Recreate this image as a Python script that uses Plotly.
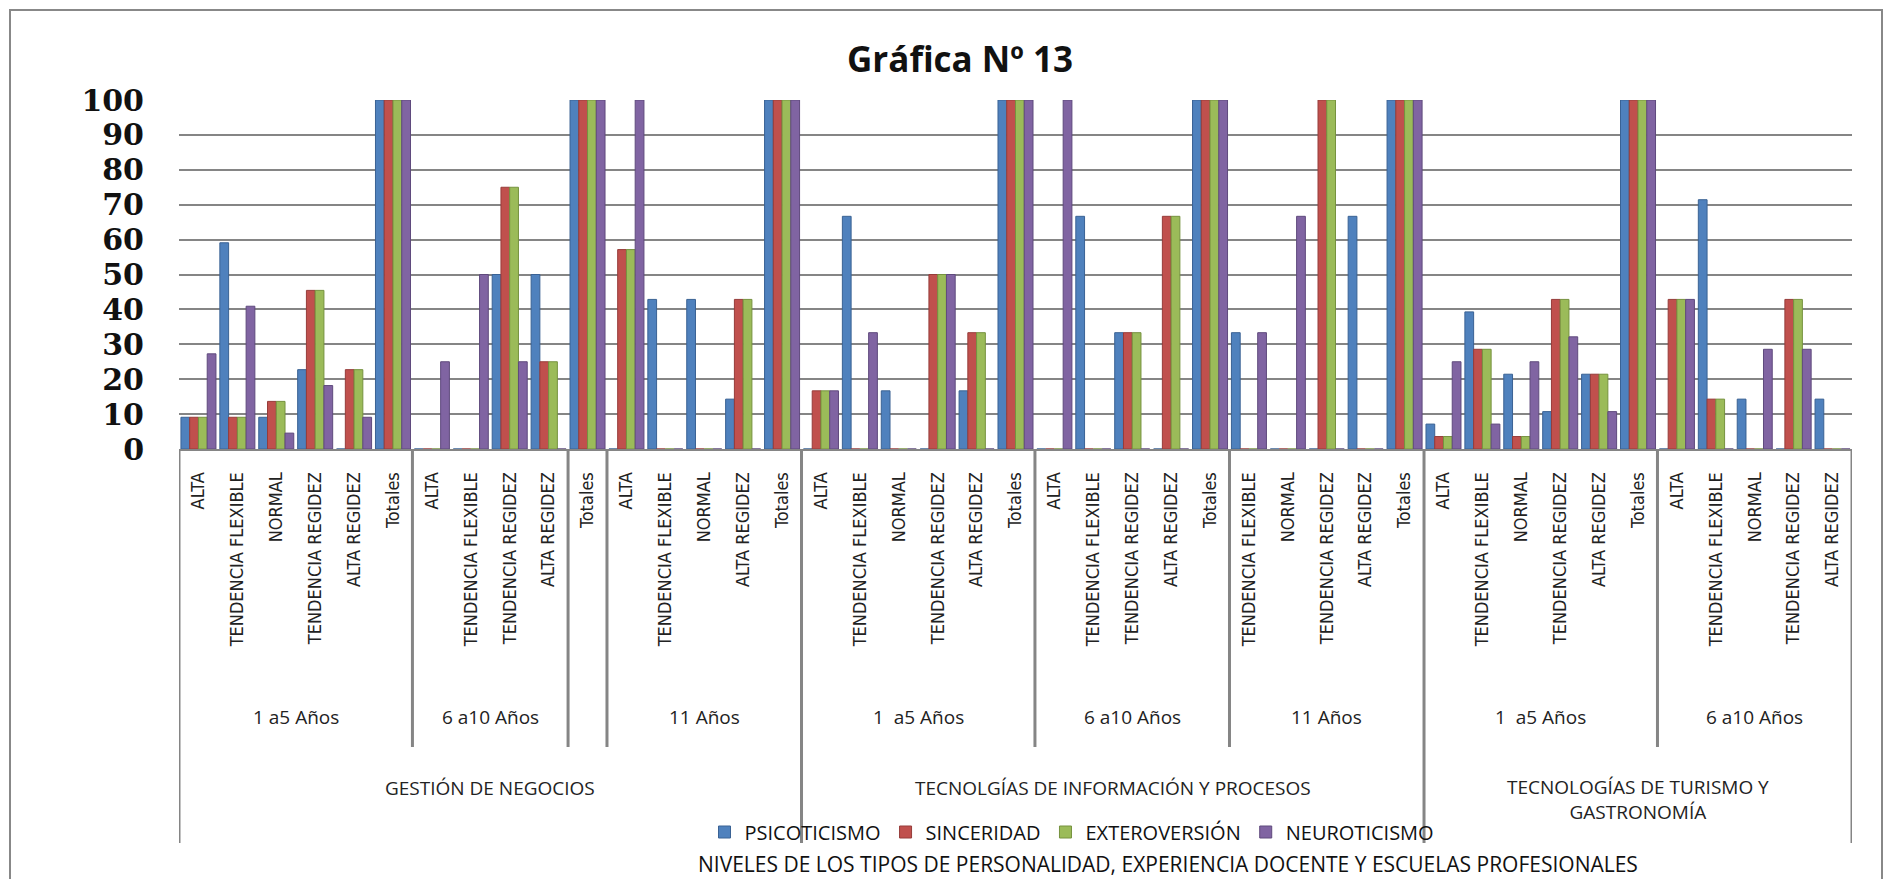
import plotly.graph_objects as go

# ---------------- data ----------------
niveles = [
    "ALTA", "TENDENCIA FLEXIBLE", "NORMAL", "TENDENCIA REGIDEZ", "ALTA REGIDEZ", "Totales",
    "ALTA", "TENDENCIA FLEXIBLE", "TENDENCIA REGIDEZ", "ALTA REGIDEZ",
    "Totales",
    "ALTA", "TENDENCIA FLEXIBLE", "NORMAL", "ALTA REGIDEZ", "Totales",
    "ALTA", "TENDENCIA FLEXIBLE", "NORMAL", "TENDENCIA REGIDEZ", "ALTA REGIDEZ", "Totales",
    "ALTA", "TENDENCIA FLEXIBLE", "TENDENCIA REGIDEZ", "ALTA REGIDEZ", "Totales",
    "TENDENCIA FLEXIBLE", "NORMAL", "TENDENCIA REGIDEZ", "ALTA REGIDEZ", "Totales",
    "ALTA", "TENDENCIA FLEXIBLE", "NORMAL", "TENDENCIA REGIDEZ", "ALTA REGIDEZ", "Totales",
    "ALTA", "TENDENCIA FLEXIBLE", "NORMAL", "TENDENCIA REGIDEZ", "ALTA REGIDEZ",
]

experiencia = (
    ["1 a5 Años"] * 6 + ["6 a10 Años"] * 4 + [""] * 1 + ["11 Años"] * 5
    + ["1  a5 Años"] * 6 + ["6 a10 Años"] * 5 + ["11 Años"] * 5
    + ["1  a5 Años"] * 6 + ["6 a10 Años"] * 5
)

escuela = (
    ["GESTIÓN DE NEGOCIOS"] * 16
    + ["TECNOLGÍAS DE INFORMACIÓN Y PROCESOS"] * 16
    + ["TECNOLOGÍAS DE TURISMO Y<br>GASTRONOMÍA"] * 11
)

psicoticismo = [
    9.09, 59.09, 9.09, 22.73, 0, 100,
    0, 0, 50, 50,
    100,
    0, 42.86, 42.86, 14.29, 100,
    0, 66.67, 16.67, 0, 16.67, 100,
    0, 66.67, 33.33, 0, 100,
    33.33, 0, 0, 66.67, 100,
    7.14, 39.29, 21.43, 10.71, 21.43, 100,
    0, 71.43, 14.29, 0, 14.29,
]

sinceridad = [
    9.09, 9.09, 13.64, 45.45, 22.73, 100,
    0, 0, 75, 25,
    100,
    57.14, 0, 0, 42.86, 100,
    16.67, 0, 0, 50, 33.33, 100,
    0, 0, 33.33, 66.67, 100,
    0, 0, 100, 0, 100,
    3.57, 28.57, 3.57, 42.86, 21.43, 100,
    42.86, 14.29, 0, 42.86, 0,
]

exteroversion = [
    9.09, 9.09, 13.64, 45.45, 22.73, 100,
    0, 0, 75, 25,
    100,
    57.14, 0, 0, 42.86, 100,
    16.67, 0, 0, 50, 33.33, 100,
    0, 0, 33.33, 66.67, 100,
    0, 0, 100, 0, 100,
    3.57, 28.57, 3.57, 42.86, 21.43, 100,
    42.86, 14.29, 0, 42.86, 0,
]

neuroticismo = [
    27.27, 40.91, 4.55, 18.18, 9.09, 100,
    25, 50, 25, 0,
    100,
    100, 0, 0, 0, 100,
    16.67, 33.33, 0, 50, 0, 100,
    100, 0, 0, 0, 100,
    33.33, 66.67, 0, 0, 100,
    25, 7.14, 25, 32.14, 10.71, 100,
    42.86, 0, 28.57, 28.57, 0,
]

series_names = ["PSICOTICISMO", "SINCERIDAD", "EXTEROVERSIÓN", "NEUROTICISMO"]
series_values = [psicoticismo, sinceridad, exteroversion, neuroticismo]
y_ticks = [0, 10, 20, 30, 40, 50, 60, 70, 80, 90, 100]

title_text = "Gráfica Nº 13"
x_title = "NIVELES DE LOS TIPOS DE PERSONALIDAD, EXPERIENCIA DOCENTE Y ESCUELAS PROFESIONALES"

# ---------------- styling ----------------
colors = ["#4F81BD", "#C0504D", "#9BBB59", "#8064A2"]
edge = ["#3A6294", "#963C3A", "#76923F", "#5F4A7D"]
GRID = "#858585"
OFF = 8                      # browser body margin
W, H = 1892 - 2 * OFF, 887 - 2 * OFF
PLOT_L, PLOT_R, PLOT_T, PLOT_B = 179, 1852, 100, 449   # page pixels
L, T = PLOT_L - OFF, PLOT_T - OFF
R = W - (PLOT_R - OFF)
B = H - (PLOT_B - OFF)
PW, PH = PLOT_R - PLOT_L, PLOT_B - PLOT_T

def py(pix):
    return (PLOT_B - pix) / PH

def pxp(pix):
    return (pix - PLOT_L) / PW

NARROW = "Liberation Sans Narrow, DejaVu Sans Condensed, Arial Narrow, sans-serif"
SANS = "Open Sans, DejaVu Sans, sans-serif"

idx = list(range(len(niveles)))

fig = go.Figure()
for name, vals, c, e in zip(series_names, series_values, colors, edge):
    fig.add_trace(go.Bar(
        x=idx, y=vals, name=name,
        marker=dict(color=c, line=dict(color=e, width=1)),
    ))

# group runs
def runs(keys):
    out = []
    start = 0
    for i in range(1, len(keys) + 1):
        if i == len(keys) or keys[i] != keys[start]:
            out.append((start, i - 1, keys[start]))
            start = i
    return out

lvl2 = runs(list(zip(escuela, experiencia)))
lvl1 = runs(escuela)

annotations = []
shapes = []
for s, e_, key in lvl2:
    annotations.append(dict(
        x=(s + e_) / 2, y=py(717), xref="x", yref="paper",
        text=key[1], showarrow=False, yanchor="middle", xanchor="center",
        font=dict(family=SANS, size=19, color="#222"),
    ))
for s, e_, key in lvl1:
    two = "<br>" in key
    annotations.append(dict(
        x=(s + e_) / 2, y=py(799 if two else 788), xref="x", yref="paper",
        text=key, showarrow=False, yanchor="middle", xanchor="center",
        font=dict(family=SANS, size=19, color="#222"),
    ))

lvl1_bounds = set([lvl1[0][0] - 0.5] + [e_ + 0.5 for s, e_, k in lvl1])
lvl2_bounds = set([e_ + 0.5 for s, e_, k in lvl2]) - lvl1_bounds
for b in sorted(lvl1_bounds):
    shapes.append(dict(type="line", xref="x", yref="paper", x0=b, x1=b,
                       y0=0, y1=py(843), line=dict(color=GRID, width=3)))
for b in sorted(lvl2_bounds):
    shapes.append(dict(type="line", xref="x", yref="paper", x0=b, x1=b,
                       y0=0, y1=py(747), line=dict(color=GRID, width=3)))

# outer chart frame
shapes.append(dict(type="rect", xref="paper", yref="paper",
                   x0=pxp(10), x1=pxp(1882), y0=py(900), y1=py(10),
                   line=dict(color="#888888", width=2), fillcolor="rgba(0,0,0,0)"))

annotations.append(dict(
    x=pxp(960), y=py(58), xref="paper", yref="paper", text="<b>" + title_text + "</b>",
    showarrow=False, yanchor="middle", xanchor="center",
    font=dict(family=SANS, size=35, color="#111"),
))
annotations.append(dict(
    x=pxp(1168), y=py(864), xref="paper", yref="paper", text=x_title,
    showarrow=False, yanchor="middle", xanchor="center",
    font=dict(family=SANS, size=21, color="#111"),
))

fig.update_layout(
    width=W, height=H, autosize=False,
    margin=dict(l=L, r=R, t=T, b=B, pad=0),
    paper_bgcolor="white", plot_bgcolor="white",
    barmode="group", bargap=0.1, bargroupgap=0,
    showlegend=True,
    legend=dict(orientation="h", x=pxp(1072), xanchor="center", y=py(832), yanchor="middle",
                font=dict(family=SANS, size=20, color="#111"), itemwidth=30,
                bgcolor="rgba(0,0,0,0)", tracegroupgap=0),
    annotations=annotations,
    shapes=shapes,
    xaxis=dict(
        range=[-0.5, len(niveles) - 0.5],
        tickmode="array", tickvals=idx, ticktext=niveles,
        tickangle=-90, ticks="", showgrid=False, zeroline=False,
        showline=True, linecolor=GRID, linewidth=2,
        tickfont=dict(family=NARROW, size=18, color="#222"),
        ticklabelstandoff=14,
    ),
    yaxis=dict(
        range=[0, 100], tickmode="array", tickvals=y_ticks,
        showgrid=True, gridcolor=GRID, gridwidth=2, zeroline=False,
        showline=False, ticks="",
        tickfont=dict(family="DejaVu Serif, serif", size=30, color="#111", weight="bold"),
        ticklabelstandoff=34,
    ),
)

fig.write_html("out.html")
